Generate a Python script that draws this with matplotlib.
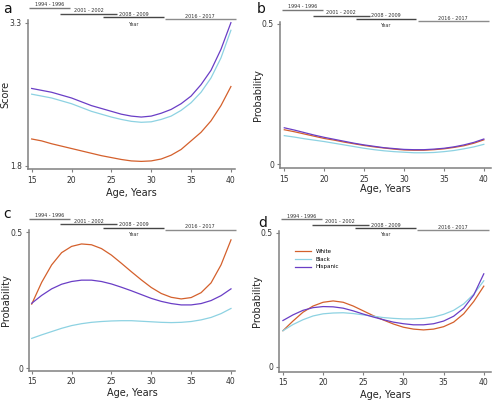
import numpy as np
import matplotlib
matplotlib.use('Agg')
import matplotlib.pyplot as plt

age = [15, 16.25, 17.5, 18.75, 20, 21.25, 22.5, 23.75, 25, 26.25, 27.5,
       28.75, 30, 31.25, 32.5, 33.75, 35, 36.25, 37.5, 38.75, 40]

# panel a - score
a_white = [2.08, 2.06, 2.03, 2.005, 1.98, 1.955, 1.93, 1.905, 1.885, 1.865, 1.85,
           1.845, 1.85, 1.87, 1.91, 1.97, 2.06, 2.15, 2.27, 2.43, 2.63]
a_black = [2.55, 2.53, 2.51, 2.48, 2.45, 2.41, 2.37, 2.34, 2.31, 2.285, 2.265,
           2.255, 2.26, 2.285, 2.32, 2.38, 2.46, 2.57, 2.72, 2.93, 3.22]
a_hisp = [2.61, 2.59, 2.57, 2.54, 2.51, 2.47, 2.43, 2.40, 2.37, 2.34, 2.32,
          2.31, 2.32, 2.35, 2.39, 2.45, 2.53, 2.65, 2.80, 3.02, 3.30]

# panel b
b_white = [0.123, 0.116, 0.108, 0.100, 0.092, 0.086, 0.079, 0.073, 0.067, 0.062, 0.058,
           0.054, 0.051, 0.050, 0.050, 0.052, 0.055, 0.060, 0.066, 0.075, 0.087]
b_black = [0.102, 0.097, 0.091, 0.086, 0.081, 0.075, 0.069, 0.063, 0.057, 0.052, 0.048,
           0.045, 0.043, 0.041, 0.041, 0.042, 0.045, 0.049, 0.055, 0.062, 0.071]
b_hisp = [0.130, 0.122, 0.113, 0.104, 0.096, 0.089, 0.082, 0.075, 0.069, 0.064, 0.059,
          0.056, 0.053, 0.052, 0.052, 0.054, 0.057, 0.062, 0.069, 0.078, 0.090]

# panel c
c_white = [0.236, 0.316, 0.380, 0.425, 0.448, 0.457, 0.454, 0.440, 0.416, 0.386, 0.355,
           0.325, 0.297, 0.275, 0.261, 0.255, 0.260, 0.278, 0.314, 0.380, 0.472]
c_black = [0.110, 0.123, 0.135, 0.147, 0.157, 0.164, 0.169, 0.172, 0.174, 0.175, 0.175,
           0.173, 0.171, 0.169, 0.168, 0.169, 0.172, 0.178, 0.187, 0.201, 0.220]
c_hisp = [0.239, 0.268, 0.292, 0.309, 0.319, 0.324, 0.324, 0.319, 0.310, 0.298, 0.285,
          0.271, 0.257, 0.246, 0.238, 0.233, 0.233, 0.238, 0.249, 0.267, 0.292]

# panel d
d_white = [0.134, 0.170, 0.203, 0.226, 0.240, 0.245, 0.240, 0.226, 0.208, 0.190, 0.174,
           0.159, 0.147, 0.140, 0.137, 0.140, 0.149, 0.166, 0.197, 0.243, 0.300]
d_black = [0.134, 0.157, 0.175, 0.189, 0.197, 0.200, 0.201, 0.198, 0.193, 0.188, 0.183,
           0.180, 0.178, 0.178, 0.180, 0.185, 0.195, 0.210, 0.234, 0.270, 0.320]
d_hisp = [0.172, 0.193, 0.210, 0.220, 0.224, 0.223, 0.218, 0.208, 0.196, 0.185, 0.175,
          0.166, 0.160, 0.156, 0.156, 0.160, 0.170, 0.188, 0.218, 0.267, 0.346]

# survey years and the age range each one covers
year_labels = ['1994 - 1996', '2001 - 2002', '2008 - 2009', '2016 - 2017']
year_start = [14.7, 18.6, 24.0, 31.7]
year_end = [19.85, 25.7, 31.55, 40.6]

c_white_col = '#d4602c'
c_black_col = '#8dd2e2'
c_hisp_col = '#6a3ec6'

fig = plt.figure(figsize=(4.92, 4.03), dpi=100)

panels = [
    # letter, rect, xlim, ylim, yticks, tick labels, ylabel, series, xlabel y, ylabel x, letter pos
    ('a', [0.0569, 0.5799, 0.4207, 0.3705], (14.54, 40.51), (1.762, 3.328),
     [1.8, 3.3], ['1.8', '3.3'], 'Score', (a_white, a_black, a_hisp), -0.125, -0.085,
     (0.006, 0.978)),
    ('b', [0.5697, 0.5824, 0.4283, 0.3638], (14.5, 40.9), (-0.0143, 0.508),
     [0, 0.5], ['0', '0.5'], 'Probability', (b_white, b_black, b_hisp), -0.104, -0.083,
     (0.522, 0.978)),
    ('c', [0.0596, 0.0801, 0.4180, 0.3490], (14.7, 40.5), (-0.0088, 0.508),
     [0, 0.5], ['0', '0.5'], 'Probability', (c_white, c_black, c_hisp), -0.123, -0.09,
     (0.006, 0.469)),
    ('d', [0.5677, 0.0777, 0.4303, 0.3500], (14.55, 40.9), (-0.0187, 0.507),
     [0, 0.5], ['0', '0.5'], 'Probability', (d_white, d_black, d_hisp), -0.13, -0.08,
     (0.524, 0.446)),
]

bar_y = [1.08, 1.042, 1.018, 1.004]
bar_col = ['#777777', '#4d4d4d', '#444444', '#8c8c8c']

for letter, rect, xl, yl, yt, ytl, ylab, series, xlab_y, ylab_x, lpos in panels:
    ax = fig.add_axes(rect)
    w, b, h = series
    ax.plot(age, w, color=c_white_col, lw=0.9, label='White')
    ax.plot(age, b, color=c_black_col, lw=0.9, label='Black')
    ax.plot(age, h, color=c_hisp_col, lw=0.9, label='Hispanic')
    ax.set_xlim(xl)
    ax.set_ylim(yl)
    ax.set_xticks([15, 20, 25, 30, 35, 40])
    ax.set_yticks(yt)
    ax.set_yticklabels(ytl)
    for s in ['top', 'right']:
        ax.spines[s].set_visible(False)
    for s in ['left', 'bottom']:
        ax.spines[s].set_color('#808080')
        ax.spines[s].set_linewidth(1.1)
    ax.tick_params(labelsize=5.5, length=2.5, width=0.8, color='#808080',
                   labelcolor='#333333', pad=2)
    ax.set_xlabel('Age, Years', fontsize=7, color='#222222')
    ax.xaxis.set_label_coords(0.5, xlab_y)
    ax.set_ylabel(ylab, fontsize=7, color='#222222')
    ax.yaxis.set_label_coords(ylab_x, 0.5)

    # survey-year bars above the plot
    trans = ax.get_xaxis_transform()
    for i in range(len(year_labels)):
        ax.plot([year_start[i], year_end[i]], [bar_y[i], bar_y[i]], transform=trans,
                color=bar_col[i], lw=1.0, clip_on=False, solid_capstyle='butt')
        ax.text((year_start[i] + year_end[i]) / 2, bar_y[i] + 0.004, year_labels[i],
                transform=trans, fontsize=3.5, ha='center', va='bottom', color='#333333')
    ax.text(27.7, 0.971, 'Year', transform=trans, fontsize=3.5, ha='center',
            va='center', color='#333333')

    fig.text(lpos[0], lpos[1], letter, fontsize=10, ha='left', va='center',
             color='#111111')

    if letter == 'd':
        ax.legend(loc='upper left', bbox_to_anchor=(0.06, 0.89), frameon=False,
                  fontsize=4, handlelength=3, handletextpad=0.8, labelspacing=0.5,
                  borderpad=0)

fig.savefig('out.png', dpi=100)
